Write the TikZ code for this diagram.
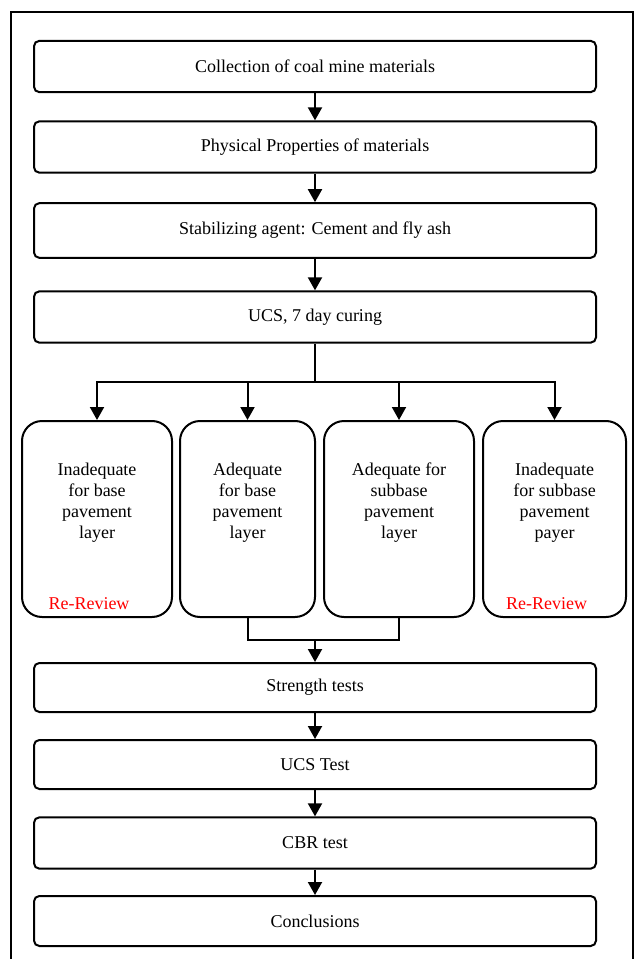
\documentclass[tikz,border=0pt]{standalone}
\usepackage{fontspec}
\setmainfont{LiberationSerif}[Extension=.ttf, UprightFont=*-Regular, BoldFont=*-Bold]
\usetikzlibrary{arrows.meta, positioning, calc}

\begin{document}
\begin{tikzpicture}[
    x=0.75pt, y=-0.75pt,
    stage/.style={
      rectangle, draw, line width=1.5pt,
      rounded corners=4pt, minimum width=421.5pt, minimum height=38.5pt,
      font=\rmfamily\fontsize{13.5}{15.75}\selectfont, inner sep=0pt
    },
    choice/.style={
      rectangle, draw, line width=1.5pt,
      rounded corners=15pt, minimum height=147pt, inner sep=0pt
    },
    txt/.style={font=\rmfamily\fontsize{13.5}{15.75}\selectfont, align=center, inner sep=0pt},
    note/.style={font=\rmfamily\fontsize{13.5}{15.75}\selectfont, text=red, inner sep=0pt},
    flow/.style={-{Triangle[length=9.75pt, width=10.5pt]}, line width=1.5pt},
    link/.style={line width=1.5pt},
  ]
  \useasboundingbox (0,0) rectangle (634,959);
  \clip (0,0) rectangle (634,959);

  % outer frame
  \draw[link] (11,975) -- (11,12) -- (633,12) -- (633,975);

  % main stages
  \node[stage] (collect) at (315,66.5) {Collection of coal mine materials};
  \node[stage] (props) at (315,147) {Physical Properties of materials};
  \node[stage, minimum height=41pt] (agent) at (315,230.5) {Stabilizing agent: Cement and fly ash};
  \node[stage] (ucs7) at (315,317) {UCS, 7 day curing};

  % outcomes
  \node[choice, minimum width=112.5pt] (inbase) at (97,519) {};
  \node[choice, minimum width=101.25pt] (adbase) at (247.5,519) {};
  \node[choice, minimum width=112.5pt] (adsub) at (399,519) {};
  \node[choice, minimum width=107.25pt] (insub) at (554.5,519) {};

  \node[txt] (inbasetxt) at (97,503) {Inadequate\\for base\\pavement\\layer};
  \node[txt] (adbasetxt) at (247.5,503) {Adequate\\for base\\pavement\\layer};
  \node[txt] (adsubtxt) at (399,503) {Adequate for\\subbase\\pavement\\layer};
  \node[txt] (insubtxt) at (554.5,503) {Inadequate\\for subbase\\pavement\\payer};

  \node[note] (inbasenote) at ($(inbase.south)+(-8,-14)$) {Re-Review};
  \node[note] (insubnote) at ($(insub.south)+(-8,-14)$) {Re-Review};

  % tests
  \node[stage, minimum height=36.75pt] (strength) at (315,687.5) {Strength tests};
  \node[stage, minimum height=36.75pt] (ucstest) at (315,764.5) {UCS Test};
  \node[stage] (cbr) at (315,843) {CBR test};
  \node[stage, minimum height=37.5pt] (concl) at (315,921) {Conclusions};

  \coordinate (split) at (315,382);
  \coordinate (merge) at (315,640);

  \draw[flow] (collect) -- (props);
  \draw[flow] (props) -- (agent);
  \draw[flow] (agent) -- (ucs7);
  \draw[link] (ucs7.south) -- (split);
  \draw[flow] (split) -| (inbase.north);
  \draw[flow] (split) -| (adbase.north);
  \draw[flow] (split) -| (adsub.north);
  \draw[flow] (split) -| (insub.north);
  \draw[link] (adbase.south) |- (merge) -| (adsub.south);
  \draw[flow] (merge) -- (strength.north);
  \draw[flow] (strength) -- (ucstest);
  \draw[flow] (ucstest) -- (cbr);
  \draw[flow] (cbr) -- (concl);
\end{tikzpicture}
\end{document}
